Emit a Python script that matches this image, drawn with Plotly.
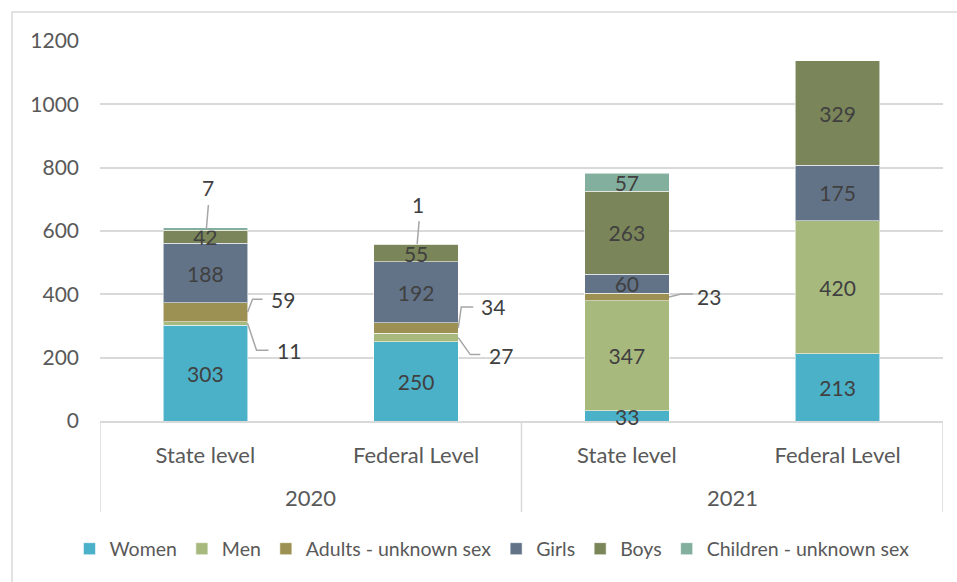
import plotly.graph_objects as go

# Categories (year / level)
years = ["2020", "2020", "2021", "2021"]
levels = ["State level", "Federal Level", "State level", "Federal Level"]

# Series values, bottom to top of each stack
series_names = ["Women", "Men", "Adults - unknown sex", "Girls", "Boys", "Children - unknown sex"]
women = [303, 250, 33, 213]
men = [11, 27, 347, 420]
adults_unknown = [59, 34, 23, 0]
girls = [188, 192, 60, 175]
boys = [42, 55, 263, 329]
children_unknown = [7, 1, 57, 0]

y_ticks = [0, 200, 400, 600, 800, 1000, 1200]

series_values = [women, men, adults_unknown, girls, boys, children_unknown]
colors = ["#4BB1C8", "#A8B97E", "#9C9052", "#627388", "#7A8559", "#83AF9E"]

BAR_WIDTH = 0.4
FAMILY = "Lato, 'Open Sans', sans-serif"
LABEL_FONT = dict(family=FAMILY, size=21, color="#404040")
AXIS_FONT = dict(family=FAMILY, size=21, color="#595959")
CAT_FONT = dict(family=FAMILY, size=22, color="#595959")
LEGEND_FONT = dict(family=FAMILY, size=19.5, color="#595959")
FRAME = "#D9D9D9"

# unique category keys, shown with the level name as tick text
cat_keys = [f"{y} {l}" for y, l in zip(years, levels)]

# Labels drawn as free text (small segments), optionally with a leader line:
# (series index, bar index) -> anchor side, label offset (px), leader path (px, y up)
outside_labels = {
    (2, 0): ("right", (35, 13), [(0, 0), (5, 13), (15, 13)]),
    (1, 0): ("right", (41, -27), [(0, 0), (9, -27), (21, -27)]),
    (5, 0): ("center", (3, 41), [(1, 0), (3, 24)]),
    (5, 1): ("center", (2, 40), [(1, 0), (3, 23)]),
    (2, 1): ("right", (35, 21), [(0, 0), (3, 21), (15, 21)]),
    (1, 1): ("right", (43, -18), [(0, 0), (12, -17), (22, -17)]),
    (2, 2): ("right", (40, 1), [(0, 0), (12, 3), (24, 3)]),
    (0, 2): ("center", (0, -1), None),
}

fig = go.Figure()

cum = [0] * len(years)
annotations = []
shapes = []
for si, (name, vals, col) in enumerate(zip(series_names, series_values, colors)):
    texts = []
    for bi, v in enumerate(vals):
        if v == 0 or (si, bi) in outside_labels:
            texts.append("")
        else:
            texts.append(str(v))
        if v and (si, bi) in outside_labels:
            side, (dx, dy), path_pts = outside_labels[(si, bi)]
            x_anchor = bi + (BAR_WIDTH / 2 if side == "right" else 0)
            y_anchor = cum[bi] + v / 2
            annotations.append(dict(
                x=x_anchor, y=y_anchor, xref="x", yref="y",
                text=str(v), showarrow=False, xshift=dx, yshift=dy,
                font=LABEL_FONT, xanchor="center", yanchor="middle",
            ))
            if path_pts:
                path = "M" + " L".join(f"{px},{py}" for px, py in path_pts)
                shapes.append(dict(
                    type="path", xref="x", yref="y",
                    xsizemode="pixel", ysizemode="pixel",
                    xanchor=x_anchor, yanchor=y_anchor, path=path,
                    line=dict(color="#A6A6A6", width=1.5), layer="above",
                ))
    fig.add_trace(go.Bar(
        name=name,
        x=cat_keys,
        y=vals,
        marker=dict(color=col, line=dict(color="rgba(255,255,255,0.55)", width=1)),
        width=BAR_WIDTH,
        text=texts,
        textposition="inside",
        insidetextanchor="middle",
        textangle=0,
        textfont=LABEL_FONT,
        cliponaxis=False,
        hoverinfo="name+y",
    ))
    cum = [c + v for c, v in zip(cum, vals)]

# Year labels centred under each pair of bars, with dividers between groups
group_years = sorted(set(years))
for gy in group_years:
    idx = [i for i, y in enumerate(years) if y == gy]
    annotations.append(dict(
        x=(idx[0] + idx[-1]) / 2, y=-76 / 380, xref="x", yref="paper",
        text=gy, showarrow=False, font=CAT_FONT,
        xanchor="center", yanchor="middle",
    ))
boundaries = [-0.5] + [i + 0.5 for i in range(len(years) - 1) if years[i] != years[i + 1]] + [len(years) - 0.5]
for b in boundaries:
    shapes.append(dict(
        type="line", xref="x", yref="paper", x0=b, x1=b, y0=0, y1=-91 / 380,
        line=dict(color=FRAME, width=1.5), layer="below",
    ))

# Light outer frame around the chart area
shapes.append(dict(
    type="rect", xref="paper", yref="paper",
    x0=-88 / 843, x1=1.2, y0=-0.6, y1=409 / 380,
    line=dict(color=FRAME, width=1.5), layer="below",
))

fig.update_layout(
    width=957, height=582,
    margin=dict(l=100, r=14, t=41, b=161, autoexpand=False),
    barmode="stack",
    plot_bgcolor="white", paper_bgcolor="white",
    font=AXIS_FONT,
    uniformtext=dict(minsize=21, mode="show"),
    showlegend=True,
    legend=dict(
        orientation="h", x=0.465, xanchor="center",
        yref="container", y=1 - 549 / 582, yanchor="middle",
        font=LEGEND_FONT, itemwidth=30, traceorder="normal",
    ),
    annotations=annotations,
    shapes=shapes,
)

fig.update_yaxes(
    range=[0, 1200], tickvals=y_ticks, showgrid=True, gridcolor=FRAME,
    gridwidth=1.5, zeroline=False, showline=False, ticks="",
    ticklabelstandoff=20, tickfont=AXIS_FONT,
)
fig.update_xaxes(
    type="category", tickvals=cat_keys, ticktext=levels,
    showline=True, linecolor=FRAME, linewidth=1.5, showgrid=False,
    ticks="", tickfont=CAT_FONT, ticklabelstandoff=14, range=[-0.5, 3.5],
)

fig.write_html("out.html")
